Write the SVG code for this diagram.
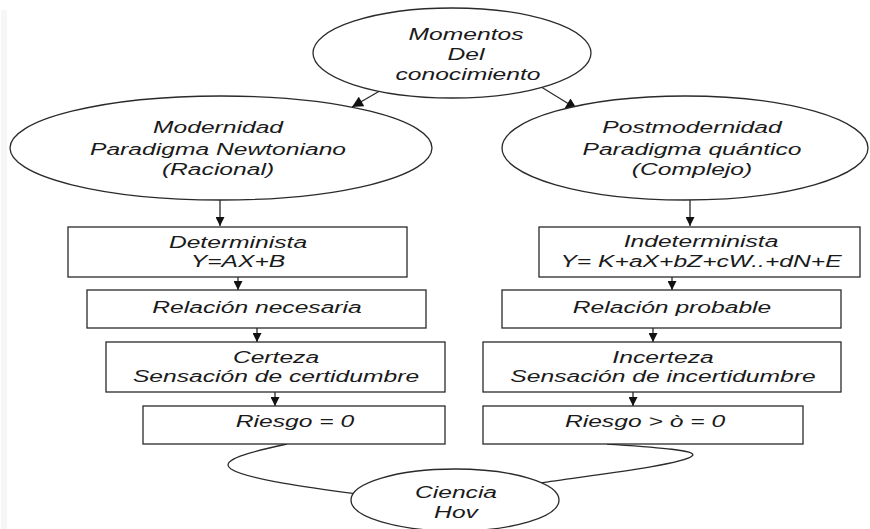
<svg xmlns="http://www.w3.org/2000/svg" width="870" height="529" viewBox="0 0 870 529">
  <style>
    .shape { fill: #ffffff; stroke: #2a2a2a; stroke-width: 1.3; }
    .link { fill: none; stroke: #2a2a2a; stroke-width: 1.3; }
    .lbl { font-family: "Liberation Sans", Arial, sans-serif; font-style: italic; font-size: 17px; fill: #1a1a1a; text-anchor: middle; }
  </style>
  <defs>
    <marker id="arrow" viewBox="0 0 10 10" refX="10" refY="5" markerUnits="userSpaceOnUse" markerWidth="9" markerHeight="9" orient="auto">
      <path d="M0,0 L10,5 L0,10 z" fill="#111111"/>
    </marker>
    <marker id="arrowLg" viewBox="0 0 10 10" refX="10" refY="5" markerUnits="userSpaceOnUse" markerWidth="12" markerHeight="11" orient="auto">
      <path d="M0,0 L10,5 L0,10 z" fill="#111111"/>
    </marker>
  </defs>

  <rect x="0" y="0" width="870" height="529" fill="#ffffff"/>
  <rect x="1" y="10" width="6" height="519" fill="#f6f6f6"/>

  <!-- connectors -->
  <g id="connectors">
    <line class="link" x1="390" y1="85" x2="352" y2="107" marker-end="url(#arrowLg)"/>
    <line class="link" x1="538" y1="85" x2="577" y2="109" marker-end="url(#arrowLg)"/>
    <line class="link" x1="220" y1="200" x2="220" y2="226" marker-end="url(#arrow)"/>
    <line class="link" x1="238" y1="277" x2="238" y2="290" marker-end="url(#arrow)"/>
    <line class="link" x1="257" y1="328" x2="257" y2="342" marker-end="url(#arrow)"/>
    <line class="link" x1="275" y1="392" x2="275" y2="406" marker-end="url(#arrow)"/>
    <line class="link" x1="690" y1="200" x2="690" y2="226" marker-end="url(#arrow)"/>
    <line class="link" x1="672" y1="277" x2="672" y2="290" marker-end="url(#arrow)"/>
    <line class="link" x1="653" y1="328" x2="653" y2="342" marker-end="url(#arrow)"/>
    <line class="link" x1="633" y1="392" x2="633" y2="406" marker-end="url(#arrow)"/>
    <path class="link" d="M287,444 C250,452 218,460 231,469 C248,480 320,489 365,495"/>
    <path class="link" d="M607,444 C650,447 700,450 692,456 C682,465 585,476 540,483"/>
  </g>

  <!-- top ellipse -->
  <g id="momentos">
    <ellipse class="shape" cx="452" cy="53" rx="139" ry="45"/>
    <text class="lbl" transform="translate(466 40) scale(1.45 1)">Momentos</text>
    <text class="lbl" transform="translate(466 60) scale(1.45 1)">Del</text>
    <text class="lbl" transform="translate(468 80) scale(1.45 1)">conocimiento</text>
  </g>

  <!-- left branch -->
  <g id="modernidad">
    <ellipse class="shape" cx="221" cy="148" rx="211" ry="52"/>
    <text class="lbl" transform="translate(218 133) scale(1.45 1)">Modernidad</text>
    <text class="lbl" transform="translate(218 155) scale(1.45 1)">Paradigma Newtoniano</text>
    <text class="lbl" transform="translate(218 175) scale(1.45 1)">(Racional)</text>
  </g>
  <g id="determinista">
    <rect class="shape" x="68" y="227" width="339" height="50"/>
    <text class="lbl" transform="translate(238 248) scale(1.45 1)">Determinista</text>
    <text class="lbl" transform="translate(238 267) scale(1.45 1)">Y=AX+B</text>
  </g>
  <g id="rel-necesaria">
    <rect class="shape" x="87" y="290" width="339" height="38"/>
    <text class="lbl" transform="translate(257 313) scale(1.45 1)">Relación necesaria</text>
  </g>
  <g id="certeza">
    <rect class="shape" x="106" y="342" width="339" height="50"/>
    <text class="lbl" transform="translate(276 363) scale(1.45 1)">Certeza</text>
    <text class="lbl" transform="translate(276 382) scale(1.45 1)">Sensación de certidumbre</text>
  </g>
  <g id="riesgo-cero">
    <rect class="shape" x="143" y="406" width="302" height="38"/>
    <text class="lbl" transform="translate(295 427) scale(1.45 1)">Riesgo = 0</text>
  </g>

  <!-- right branch -->
  <g id="postmodernidad">
    <ellipse class="shape" cx="685" cy="148" rx="183" ry="52"/>
    <text class="lbl" transform="translate(692 133) scale(1.45 1)">Postmodernidad</text>
    <text class="lbl" transform="translate(692 155) scale(1.45 1)">Paradigma quántico</text>
    <text class="lbl" transform="translate(692 175) scale(1.45 1)">(Complejo)</text>
  </g>
  <g id="indeterminista">
    <rect class="shape" x="539" y="227" width="321" height="50"/>
    <text class="lbl" transform="translate(701 247) scale(1.45 1)">Indeterminista</text>
    <text class="lbl" transform="translate(701 267) scale(1.45 1)">Y= K+aX+bZ+cW..+dN+E</text>
  </g>
  <g id="rel-probable">
    <rect class="shape" x="502" y="290" width="339" height="38"/>
    <text class="lbl" transform="translate(672 313) scale(1.45 1)">Relación probable</text>
  </g>
  <g id="incerteza">
    <rect class="shape" x="483" y="342" width="358" height="50"/>
    <text class="lbl" transform="translate(663 363) scale(1.45 1)">Incerteza</text>
    <text class="lbl" transform="translate(663 382) scale(1.45 1)">Sensación de incertidumbre</text>
  </g>
  <g id="riesgo-mayor">
    <rect class="shape" x="483" y="406" width="320" height="38"/>
    <text class="lbl" transform="translate(645 427) scale(1.45 1)">Riesgo &gt; ò = 0</text>
  </g>

  <!-- bottom ellipse -->
  <g id="ciencia">
    <ellipse class="shape" cx="455" cy="500" rx="104" ry="31"/>
    <text class="lbl" transform="translate(456 498) scale(1.45 1)">Ciencia</text>
    <text class="lbl" transform="translate(456 518) scale(1.45 1)">Hov</text>
  </g>
</svg>
